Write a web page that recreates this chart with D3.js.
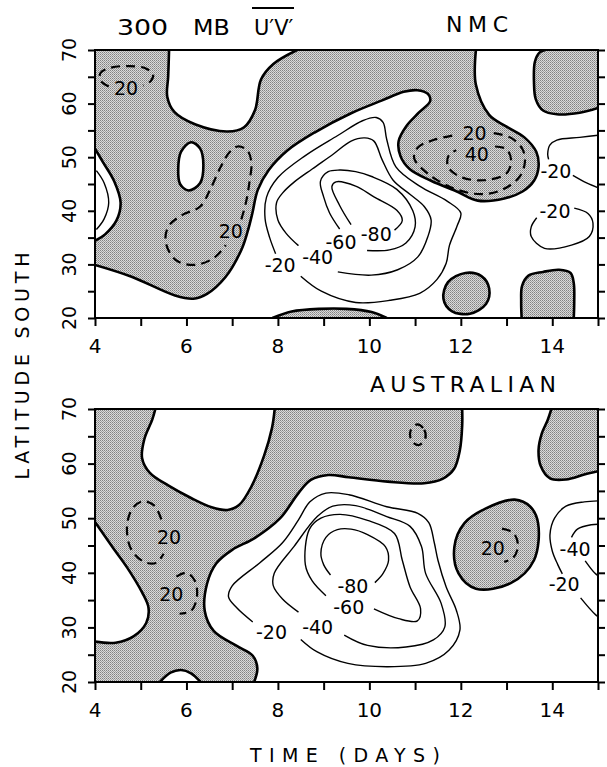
<!DOCTYPE html>
<html><head><meta charset="utf-8">
<script src="https://cdn.jsdelivr.net/npm/d3@7"></script>
<style>body{margin:0;background:#fff}svg{display:block}</style>
</head><body>
<svg id="c" width="607" height="767"></svg>
<script>
// ---------------- tick values ----------------
const dayTicks = [4,5,6,7,8,9,10,11,12,13,14,15];
const dayLabels = [4,6,8,10,12,14];
const latTicks = [20,25,30,35,40,45,50,55,60,65,70];
const latLabels = [20,30,40,50,60,70];

// ---------------- NMC panel (day, latitude) ----------------
const nmcZeroMain = [
  {edge:[[3.5,72],[5.62,72]]},
  {curve:[[5.62,70],[5.6,65],[5.58,61.3],[5.74,58.4],[6.2,56.1],[6.9,54.8],[7.26,55.6],[7.5,58.8],[7.63,64.5],[7.9,67.4],[8.42,70]]},
  {edge:[[8.45,72],[12.32,72]]},
  {curve:[[12.33,70],[12.33,63.5],[12.62,57.9],[13.0,55.7],[13.39,53.7],[13.65,51.0],[13.7,48.2],[13.6,45.6],[13.35,43.6],[12.95,42.3],[12.37,41.9],[11.94,43.5],[11.35,45.6],[10.88,47.8],[10.68,50.2],[10.64,53.0],[10.8,55.7],[11.08,58.3],[11.33,60.5],[11.28,61.8],[11.05,62.5],[10.75,62.2],[10.28,60.6],[9.6,58.2],[8.8,54.6],[8.2,51.2],[7.8,47.6],[7.56,43.9],[7.44,39.5],[7.34,36.2],[7.2,32.7],[6.85,27.6],[6.45,24.5],[6.15,23.6],[5.75,24.2],[4.8,27.7],[4.0,29.9]]},
  {edge:[[3.5,29.9],[3.5,34.4]]},
  {curve:[[4.0,34.4],[4.22,35.6],[4.47,38.2],[4.56,41.5],[4.42,45.5],[4.18,49.0],[4.0,51.6]]},
  {edge:[[3.5,51.6]]}
];
const nmcZeroTopRight = [
  {edge:[[13.8,72],[15.5,72],[15.5,59.2]]},
  {curve:[[15,59.2],[14.6,58.3],[14.1,58.0],[13.8,58.7],[13.64,60.8],[13.6,64.0],[13.62,67.8],[13.72,69.5],[13.85,70]]}
];
const nmcZeroSquare = [
  {edge:[[13.33,18],[14.47,18]]},
  {curve:[[14.47,20],[14.48,23.0],[14.47,26.5],[14.4,28.4],[14.15,29.0],[13.8,28.6],[13.48,27.9],[13.34,26.0],[13.32,23.0],[13.33,20]]}
];
const nmcZeroLens = [
  {edge:[[7.88,18],[10.38,18]]},
  {curve:[[10.38,20],[10.05,21.1],[9.5,21.7],[8.9,21.7],[8.3,21.2],[7.88,20]]}
];
const nmcZeroCircle = [[12.1,28.4],[12.45,27.8],[12.62,25.5],[12.55,22.6],[12.2,20.8],[11.8,21.3],[11.62,23.6],[11.72,26.7]];
const nmcHoleOval = [[6.1,52.8],[6.3,51.6],[6.37,48.5],[6.3,45.2],[6.05,43.8],[5.86,45.0],[5.82,47.8],[5.88,51.0]];

const nmcPos20a = [[4.3,63.2],[4.12,64.3],[4.12,65.7],[4.35,66.7],[4.75,67.0],[5.1,66.6],[5.27,65.4],[5.22,64.2],[5.05,63.4]];
const nmcPos20b = [[7.2,38.4],[7.3,41.5],[7.38,45.5],[7.42,49.0],[7.33,51.3],[7.12,52.0],[6.95,51.0],[6.75,48.2],[6.52,44.0],[6.3,40.8],[5.9,39.2],[5.6,37.0],[5.55,34.0],[5.77,30.8],[6.17,29.9],[6.6,31.2],[6.86,33.6]];
const nmcPos20c = [[12.72,54.5],[13.1,53.6],[13.35,51.5],[13.4,49.0],[13.28,46.3],[12.9,43.9],[12.45,43.1],[11.9,44.0],[11.3,46.8],[10.98,49.8],[11.06,51.8],[11.4,53.2],[11.85,54.1]];
const nmcPos40 = [[12.75,52.0],[13.0,51.5],[13.1,49.4],[13.0,47.0],[12.5,45.7],[12.0,46.3],[11.72,48.2],[11.74,50.4],[11.9,51.3]];

const nmcNeg20 = [[7.95,32.0],[7.82,35.0],[7.72,38.5],[7.75,42.5],[8.0,46.2],[8.6,50.3],[9.3,54.0],[9.85,56.8],[10.15,57.4],[10.3,56.5],[10.38,53.3],[10.58,48.2],[11.1,44.6],[11.7,41.8],[12.0,39.6],[11.92,37.2],[11.75,33.5],[11.68,30.2],[11.48,27.2],[11.1,24.6],[10.45,23.3],[9.7,22.9],[8.95,25.0],[8.5,27.8]];
const nmcNeg40 = [[8.45,33.5],[8.18,35.8],[8.0,38.3],[7.97,41.5],[8.1,43.3],[8.36,45.4],[8.75,47.8],[9.2,50.5],[9.6,53.0],[9.9,53.6],[10.1,53.0],[10.28,49.5],[10.52,45.7],[10.9,43.0],[11.2,40.8],[11.35,38.3],[11.28,35.2],[11.06,31.4],[10.62,29.0],[10.04,28.0],[9.31,28.6]];
const nmcNeg60 = [[9.35,36.6],[9.13,39.6],[9.0,42.6],[8.93,45.5],[9.1,47.3],[9.35,47.6],[9.7,47.3],[10.05,46.4],[10.6,44.0],[10.95,40.0],[11.0,37.0],[10.8,34.0],[10.44,32.7],[9.95,32.6]];
const nmcNeg80 = [[9.6,37.4],[9.35,41.0],[9.18,44.5],[9.27,45.4],[9.7,44.6],[10.1,42.6],[10.6,40.1],[10.72,38.2],[10.55,36.4]];
const nmcNegRightA = [[15.1,54.2],[14.6,53.7],[14.1,53.2],[13.95,52.3],[13.9,50.6],[13.92,49.6]];
const nmcNegRightB = [[14.45,46.6],[14.75,45.2],[15.1,44.0]];
const nmcNegLoop = [[14.48,40.5],[14.78,39.5],[14.89,37.7],[14.81,35.2],[14.42,33.6],[13.83,33.0],[13.54,35.2],[13.54,37.0],[13.66,38.7]];
const nmcNegLeft = [[4.03,47.5],[4.2,45.2],[4.3,41.5],[4.2,38.5],[4.03,36.5]];

const nmcLabels = [
  ["20",4.68,63.0],["20",6.97,36.2],["20",12.3,54.6],["40",12.35,50.6],
  ["-20",8.05,29.9],["-40",8.87,31.3],["-60",9.38,34.1],["-80",10.15,35.6],
  ["-20",14.08,47.4],["-20",14.06,40.0]
];

// ---------------- AUSTRALIAN panel ----------------
const ausZeroMain = [
  {edge:[[3.5,72],[5.32,72]]},
  {curve:[[5.32,70],[5.25,68],[5.08,64.5],[5.03,61],[5.2,58.3],[5.6,56.0],[6.1,53.7],[6.55,52.0],[6.9,51.5],[7.15,52.4],[7.42,55.8],[7.7,61.5],[7.87,66.5],[7.93,70]]},
  {edge:[[7.93,72],[12.03,72]]},
  {curve:[[12.03,70],[12.03,67],[11.98,62.5],[11.85,59],[11.6,57.2],[11.2,56.4],[10.4,56.7],[9.55,57.5],[9.1,57.9],[8.72,57.0],[8.45,54.6],[8.05,50.0],[7.5,46.4],[7.0,44.2],[6.65,41.7],[6.45,38.0],[6.4,33.0],[6.6,29.3],[7.1,26.6],[7.45,24.8],[7.55,22.5],[7.48,20]]},
  {edge:[[7.48,18],[6.31,18]]},
  {curve:[[6.31,20],[6.1,21.6],[5.88,22.2],[5.65,21.7],[5.42,20]]},
  {edge:[[5.42,18],[3.5,18],[3.5,27.4]]},
  {curve:[[4.0,27.4],[4.45,27.2],[4.85,28.4],[5.12,30.8],[5.17,33.6],[5.03,36.4],[4.7,41.0],[4.4,44.5],[4.0,49.3]]},
  {edge:[[3.5,49.3]]}
];
const ausZeroTopRight = [
  {edge:[[13.98,72],[15.5,72],[15.5,58.6]]},
  {curve:[[15,58.6],[14.7,58.0],[14.3,57.1],[13.95,57.3],[13.75,59.5],[13.7,62.5],[13.77,65.5],[13.9,68],[13.98,70]]}
];
const ausZeroBlob = [[13.18,53.4],[13.52,52.1],[13.69,49.1],[13.6,42.3],[13.09,38.1],[12.33,37.1],[11.95,39.9],[11.86,44.8],[12.08,49.1],[12.55,51.8]];

const ausPos20a = [[5.45,49.8],[5.3,52.3],[5.05,53.1],[4.82,51.8],[4.7,48.5],[4.78,44.5],[5.05,42.1],[5.33,41.8],[5.5,43.5]];
const ausPos20b = [[5.78,39.3],[6.0,40.0],[6.18,38.6],[6.23,35.6],[6.1,33.0],[5.85,32.5]];
const ausPos20c = [[12.9,48.1],[13.15,47.3],[13.25,45.0],[13.15,42.8],[12.95,42.0]];
const ausPosSmall = [[11.05,67.2],[11.2,66.2],[11.22,64.5],[11.08,63.4],[10.92,64.2],[10.9,66.0]];

const ausNeg20 = [[7.45,31.0],[7.1,33.6],[6.92,35.6],[7.0,37.6],[7.6,41.8],[8.1,45.5],[8.45,49.7],[8.7,53.0],[9.05,54.6],[9.55,54.3],[10.38,52.1],[11.06,50.9],[11.3,49.2],[11.42,45.5],[11.5,42.3],[11.68,37.4],[11.9,33.2],[11.98,29.5],[11.74,25.8],[11.23,23.4],[10.38,22.8],[9.53,23.4],[8.86,25.5],[8.5,27.8]];
const ausNeg40 = [[8.45,32.8],[8.1,35.2],[7.9,37.6],[7.92,39.9],[8.35,44.8],[8.86,50.3],[9.2,52.2],[9.7,52.3],[10.38,50.3],[10.89,48.5],[11.14,44.8],[11.23,39.9],[11.57,34.4],[11.65,30.1],[11.4,27.7],[10.8,26.4],[9.96,26.7],[9.45,28.6]];
const ausNeg60 = [[9.05,35.8],[8.75,38.5],[8.6,41.5],[8.69,48.0],[8.94,50.0],[9.36,50.7],[9.96,49.6],[10.55,47.2],[10.72,42.3],[10.89,37.4],[11.12,33.4],[11.05,31.2],[10.64,31.6],[10.1,33.4]];
const ausNeg80 = [[9.15,39.6],[9.0,41.5],[8.94,43.6],[9.05,46.5],[9.3,47.9],[9.6,48.0],[9.96,47.0],[10.35,44.8],[10.42,42.3],[10.3,39.9],[10.12,38.2]];
const ausNegR20a = [[15.1,53.2],[14.7,53.0],[14.3,52.2],[14.05,50.0],[13.95,47.0],[14.0,44.0],[14.12,41.5],[14.22,39.8]];
const ausNegR20b = [[14.62,35.4],[14.95,32.3],[15.1,31.5]];
const ausNegR40a = [[15.1,48.9],[14.85,48.8],[14.55,48.0],[14.42,46.5]];
const ausNegR40b = [[14.72,42.2],[14.95,39.8],[15.1,39.0]];

const ausLabels = [
  ["20",5.62,46.6],["20",5.67,36.2],["20",12.7,44.6],
  ["-20",7.86,29.2],["-40",8.87,30.1],["-60",9.55,33.8],["-80",9.64,37.6],
  ["-40",14.5,44.4],["-20",14.26,37.9]
];

// ---------------- drawing ----------------
const FONT = "'DejaVu Sans', sans-serif";
const svg = d3.select("#c");
const defs = svg.append("defs");
const pat = defs.append("pattern").attr("id","stip").attr("patternUnits","userSpaceOnUse")
  .attr("width",2).attr("height",2);
pat.append("rect").attr("width",2).attr("height",2).attr("fill","#dadada");
pat.append("rect").attr("x",0).attr("y",0).attr("width",1).attr("height",1).attr("fill","#828282");
pat.append("rect").attr("x",1).attr("y",1).attr("width",1).attr("height",1).attr("fill","#a0a0a0");

const x = d3.scaleLinear().domain([4,15]).range([95,598]);

const panels = [
  {id:"nmc", top:50, bottom:318,
   regions:[nmcZeroMain,nmcZeroTopRight,nmcZeroSquare,nmcZeroLens],
   blobs:[nmcZeroCircle], holes:[nmcHoleOval],
   dashed:[nmcPos20a,nmcPos20b,nmcPos20c,nmcPos40], dashedClosed:[],
   neg:[nmcNeg20,nmcNeg40,nmcNeg60,nmcNeg80,nmcNegRightA,nmcNegRightB,nmcNegLoop,nmcNegLeft],
   labels:nmcLabels},
  {id:"aus", top:409, bottom:682,
   regions:[ausZeroMain,ausZeroTopRight],
   blobs:[ausZeroBlob], holes:[],
   dashed:[ausPos20a,ausPos20b,ausPos20c], dashedClosed:[ausPosSmall],
   neg:[ausNeg20,ausNeg40,ausNeg60,ausNeg80,ausNegR20a,ausNegR20b,ausNegR40a,ausNegR40b],
   labels:ausLabels}
];

panels.forEach(p => {
  const y = d3.scaleLinear().domain([20,70]).range([p.bottom,p.top]);
  const open = d3.line().x(d=>x(d[0])).y(d=>y(d[1])).curve(d3.curveCatmullRom.alpha(0.5));
  const closed = d3.line().x(d=>x(d[0])).y(d=>y(d[1])).curve(d3.curveCatmullRomClosed.alpha(0.5));
  defs.append("clipPath").attr("id","clip-"+p.id).append("rect")
    .attr("x",x(4)).attr("y",p.top).attr("width",x(15)-x(4)).attr("height",p.bottom-p.top);
  const g = svg.append("g").attr("clip-path","url(#clip-"+p.id+")");

  function regionPath(segs){
    let d = "";
    segs.forEach(s => {
      if (s.edge) s.edge.forEach(pt => { d += (d===""?"M":"L")+x(pt[0])+","+y(pt[1]); });
      else { let c = open(s.curve); if (d!=="") c = "L"+c.slice(1); d += c; }
    });
    return d+"Z";
  }
  p.regions.forEach(r => g.append("path").attr("d",regionPath(r)).attr("fill","url(#stip)").attr("stroke","none"));
  p.blobs.forEach(b => g.append("path").attr("d",closed(b)).attr("fill","url(#stip)").attr("stroke","none"));
  p.holes.forEach(b => g.append("path").attr("d",closed(b)).attr("fill","#fff").attr("stroke","none"));
  const zeroStyle = s => s.attr("fill","none").attr("stroke","#000").attr("stroke-width",2.6).attr("stroke-linejoin","round");
  p.regions.forEach(r => r.filter(s=>s.curve).forEach(s => g.append("path").attr("d",open(s.curve)).call(zeroStyle)));
  p.blobs.concat(p.holes).forEach(b => g.append("path").attr("d",closed(b)).call(zeroStyle));
  const dashStyle = s => s.attr("fill","none").attr("stroke","#000").attr("stroke-width",2.2)
    .attr("stroke-dasharray","9,6").attr("stroke-linecap","butt");
  p.dashed.forEach(c => g.append("path").attr("d",open(c)).call(dashStyle));
  p.dashedClosed.forEach(c => g.append("path").attr("d",closed(c)).call(dashStyle));
  p.neg.forEach(c => g.append("path").attr("d",open(c)).attr("fill","none").attr("stroke","#000").attr("stroke-width",1.4));
  g.selectAll("text.cl").data(p.labels).join("text").attr("class","cl")
    .attr("x",d=>x(d[1])).attr("y",d=>y(d[2])).attr("text-anchor","middle").attr("dominant-baseline","central")
    .attr("font-family",FONT).attr("font-size",19).attr("fill","#000").text(d=>d[0]);

  svg.append("rect").attr("x",x(4)).attr("y",p.top).attr("width",x(15)-x(4)).attr("height",p.bottom-p.top)
    .attr("fill","none").attr("stroke","#000").attr("stroke-width",2);
  const ax = svg.append("g").attr("transform","translate(0,"+p.bottom+")")
    .call(d3.axisBottom(x).tickValues(dayTicks).tickSize(8).tickFormat(""));
  const al = svg.append("g").attr("transform","translate("+x(4)+",0)")
    .call(d3.axisLeft(y).tickValues(latTicks).tickSize(7).tickFormat(""));
  const ar = svg.append("g").attr("transform","translate("+x(15)+",0)")
    .call(d3.axisRight(y).tickValues(latTicks).tickSize(7).tickFormat(""));
  [ax,al,ar].forEach(a => { a.select(".domain").remove(); a.selectAll("line").attr("stroke","#000").attr("stroke-width",2); });
  svg.selectAll("text.xl-"+p.id).data(dayLabels).join("text").attr("class","xl-"+p.id)
    .attr("x",d=>x(d)).attr("y",p.bottom+35).attr("text-anchor","middle")
    .attr("font-family",FONT).attr("font-size",20).text(d=>d);
  svg.selectAll("text.yl-"+p.id).data(latLabels).join("text").attr("class","yl-"+p.id)
    .attr("transform",d=>"translate(76,"+y(d)+") rotate(-90)").attr("text-anchor","middle")
    .attr("font-family",FONT).attr("font-size",19).text(d=>d);
});

// titles
function stretched(s, xx, yy, size, sx){
  return svg.append("text").attr("transform","translate("+xx+","+yy+") scale("+sx+",1)")
    .attr("font-family",FONT).attr("font-size",size).text(s);
}
function spaced(s, xx, yy, size, len){
  return svg.append("text").attr("x",xx).attr("y",yy).attr("font-family",FONT).attr("font-size",size)
    .attr("textLength",len).attr("lengthAdjust","spacing").text(s);
}
stretched("300",117,35,22,1.22);
stretched("MB",193,35,22,1.08);
stretched("U\u2032V\u2032",254,35,21,1.0);
svg.append("line").attr("x1",252).attr("x2",294).attr("y1",8).attr("y2",8).attr("stroke","#000").attr("stroke-width",2);
spaced("NMC",446,32,22,62);
spaced("AUSTRALIAN",370,392,22,186);
spaced("TIME  (DAYS)",250,762,19,190);
svg.append("text").attr("transform","translate(29,366) rotate(-90)").attr("text-anchor","middle")
  .attr("font-family",FONT).attr("font-size",19).attr("textLength",227).attr("lengthAdjust","spacing")
  .text("LATITUDE  SOUTH");
</script>
</body></html>
